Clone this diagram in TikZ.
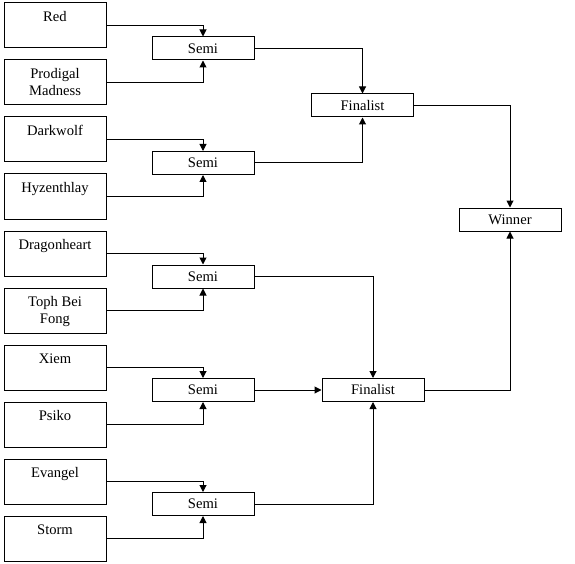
\documentclass[tikz,border=0pt]{standalone}
\usepackage{fontspec}
\setmainfont{Liberation Serif}
\usetikzlibrary{arrows.meta}

\begin{document}
\begin{tikzpicture}[x=1pt,y=-1pt,line width=1pt,>={Triangle[length=7pt,width=7pt]},
    font=\fontsize{14.6}{17}\selectfont,
    player/.style={draw,minimum width=102pt,minimum height=45pt,inner sep=0pt,
        label={[anchor=north,align=center,inner sep=0pt,yshift=-8.5pt]north:#1}},
    stage/.style={draw,minimum width=102pt,minimum height=23pt,inner sep=0pt}]
    \useasboundingbox (0,0) rectangle (575,564);
    %players, upper half
    \node[player=Red] (red) at (55,25.5) {};
    \node[player={Prodigal\\Madness}] (prodigal) at (55,82.5) {};
    \node[player=Darkwolf] (darkwolf) at (55,139.5) {};
    \node[player=Hyzenthlay] (hyzenthlay) at (55,196.5) {};
    %players, lower half
    \node[player=Dragonheart] (dragonheart) at (55,253.5) {};
    \node[player={Toph Bei\\Fong}] (toph) at (55,310.5) {};
    \node[player=Xiem] (xiem) at (55,367.5) {};
    \node[player=Psiko] (psiko) at (55,424.5) {};
    \node[player=Evangel] (evangel) at (55,481.5) {};
    \node[player=Storm] (storm) at (55,538.5) {};
    %semis
    \node[stage] (semi1) at (203,48.5) {Semi};
    \node[stage] (semi2) at (203,163) {Semi};
    \node[stage] (semi3) at (203,276.5) {Semi};
    \node[stage] (semi4) at (203,390) {Semi};
    \node[stage] (semi5) at (203,504) {Semi};
    %finalists and winner
    \node[stage] (final1) at (362.5,105.5) {Finalist};
    \node[stage] (final2) at (373,390) {Finalist};
    \node[stage] (winner) at (510,219.5) {Winner};
    %players to semis
    \draw[->] (red.east) -| (semi1.north);
    \draw[->] (prodigal.east) -| (semi1.south);
    \draw[->] (darkwolf.east) -| (semi2.north);
    \draw[->] (hyzenthlay.east) -| (semi2.south);
    \draw[->] (dragonheart.east) -| (semi3.north);
    \draw[->] (toph.east) -| (semi3.south);
    \draw[->] (xiem.east) -| (semi4.north);
    \draw[->] (psiko.east) -| (semi4.south);
    \draw[->] (evangel.east) -| (semi5.north);
    \draw[->] (storm.east) -| (semi5.south);
    %semis to finalists
    \draw[->] (semi1.east) -| (final1.north);
    \draw[->] (semi2.east) -| (final1.south);
    \draw[->] (semi3.east) -| (final2.north);
    \draw[->] (semi4.east) -- (final2.west);
    \draw[->] (semi5.east) -| (final2.south);
    %finalists to winner
    \draw[->] (final1.east) -| (winner.north);
    \draw[->] (final2.east) -| (winner.south);
\end{tikzpicture}
\end{document}
